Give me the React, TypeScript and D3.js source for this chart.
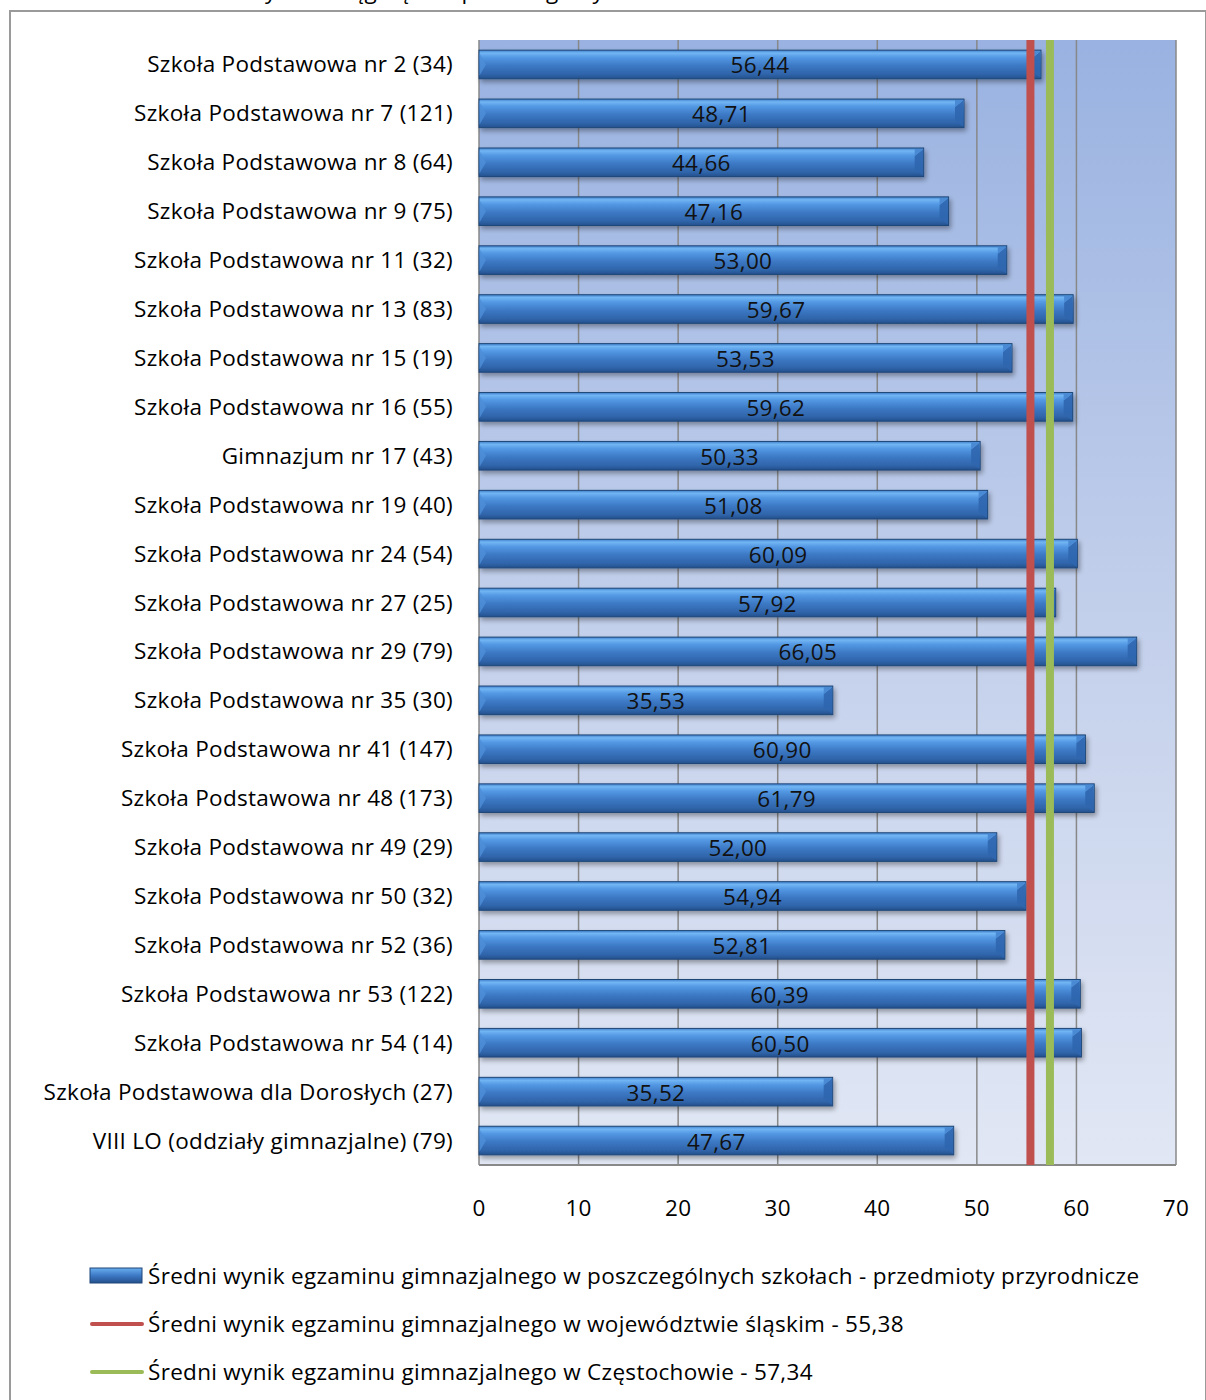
import React from "react";
import * as d3 from "d3";

const categories = [
  "Szkoła Podstawowa nr 2 (34)",
  "Szkoła Podstawowa nr 7 (121)",
  "Szkoła Podstawowa nr 8 (64)",
  "Szkoła Podstawowa nr 9 (75)",
  "Szkoła Podstawowa nr 11 (32)",
  "Szkoła Podstawowa nr 13 (83)",
  "Szkoła Podstawowa nr 15 (19)",
  "Szkoła Podstawowa nr 16 (55)",
  "Gimnazjum nr 17 (43)",
  "Szkoła Podstawowa nr 19 (40)",
  "Szkoła Podstawowa nr 24 (54)",
  "Szkoła Podstawowa nr 27 (25)",
  "Szkoła Podstawowa nr 29 (79)",
  "Szkoła Podstawowa nr 35 (30)",
  "Szkoła Podstawowa nr 41 (147)",
  "Szkoła Podstawowa nr 48 (173)",
  "Szkoła Podstawowa nr 49 (29)",
  "Szkoła Podstawowa nr 50 (32)",
  "Szkoła Podstawowa nr 52 (36)",
  "Szkoła Podstawowa nr 53 (122)",
  "Szkoła Podstawowa nr 54 (14)",
  "Szkoła Podstawowa dla Dorosłych (27)",
  "VIII LO (oddziały gimnazjalne) (79)",
];

const schoolValues = [
  56.44, 48.71, 44.66, 47.16, 53.0, 59.67, 53.53, 59.62, 50.33, 51.08, 60.09,
  57.92, 66.05, 35.53, 60.9, 61.79, 52.0, 54.94, 52.81, 60.39, 60.5, 35.52,
  47.67,
];

const voivodeshipAvg = 55.38;
const cityAvg = 57.34;

const xTicks = [0, 10, 20, 30, 40, 50, 60, 70];

const legendLabels = [
  "Średni wynik egzaminu gimnazjalnego w poszczególnych szkołach - przedmioty przyrodnicze",
  "Średni wynik egzaminu gimnazjalnego w województwie śląskim - 55,38",
  "Średni wynik egzaminu gimnazjalnego w Częstochowie - 57,34",
];

const titleText = "Wyniki osiągnięte w poszczególnych szkołach";

const FONT = "'Open Sans', 'Noto Sans', sans-serif";
const FS = 22.5;
const LS = 0.3;

export default function App() {
  const W = 1206;
  const H = 1400;
  const x = d3.scaleLinear().domain([0, 70]).range([479, 1176]);
  const y = d3
    .scaleBand<string>()
    .domain(categories)
    .range([40, 1165])
    .paddingInner(0.415)
    .paddingOuter(0.2075);
  const bh = y.bandwidth();
  const fmt = (v: number) => v.toFixed(2).replace(".", ",");

  return (
    <div style={{ position: "absolute", left: 0, top: 0 }}>
      <svg
        width={W}
        height={H}
        style={{ display: "block", letterSpacing: LS + "px" }}
        fontFamily={FONT}
      >
        <defs>
          <linearGradient id="bg" x1="0" y1="0" x2="0" y2="1">
            <stop offset="0" stopColor="#99B2E1" />
            <stop offset="0.5" stopColor="#C2CFEB" />
            <stop offset="1" stopColor="#E1E7F4" />
          </linearGradient>
          <linearGradient id="bar" x1="0" y1="0" x2="0" y2="1">
            <stop offset="0" stopColor="#3F7FCB" />
            <stop offset="0.1" stopColor="#72B6F4" />
            <stop offset="0.25" stopColor="#5499E4" />
            <stop offset="0.55" stopColor="#3C78C4" />
            <stop offset="0.85" stopColor="#2F64A9" />
            <stop offset="1" stopColor="#24508C" />
          </linearGradient>
          <linearGradient id="barSw" x1="0" y1="0" x2="0" y2="1">
            <stop offset="0" stopColor="#6AAEF0" />
            <stop offset="0.5" stopColor="#3D79C5" />
            <stop offset="1" stopColor="#24508C" />
          </linearGradient>
          <filter id="shadow" x="-5%" y="-20%" width="110%" height="160%">
            <feGaussianBlur in="SourceAlpha" stdDeviation="2.5" />
            <feOffset dx="2" dy="3" result="b" />
            <feComponentTransfer>
              <feFuncA type="linear" slope="0.35" />
            </feComponentTransfer>
            <feMerge>
              <feMergeNode />
              <feMergeNode in="SourceGraphic" />
            </feMerge>
          </filter>
        </defs>
        <rect x={0} y={0} width={W} height={H} fill="#FFFFFF" />

        {/* title (cut off at the top, as in the source image) */}
        <text x={244} y={-1} fontSize={FS} fill="#000">
          {titleText}
        </text>

        {/* outer frame */}
        <rect
          x={10}
          y={11}
          width={1196}
          height={1400}
          fill="none"
          stroke="#9A9A9A"
          strokeWidth={2}
        />

        {/* plot area */}
        <rect
          x={x(0)}
          y={40}
          width={x(70) - x(0)}
          height={1125}
          fill="url(#bg)"
        />
        {xTicks.map((t) => (
          <line
            key={"g" + t}
            x1={x(t)}
            x2={x(t)}
            y1={40}
            y2={1165}
            stroke="#888888"
            strokeWidth={1.5}
          />
        ))}
        <line x1={x(0)} x2={x(70)} y1={1165} y2={1165} stroke="#888888" strokeWidth={2} />

        {/* bars */}
        {categories.map((c, i) => {
          const v = schoolValues[i];
          const x0 = x(0);
          const x1 = x(v);
          const y0 = y(c)!;
          const bev = 7;
          return (
            <g key={c}>
              <g filter="url(#shadow)">
                <rect
                  x={x0}
                  y={y0}
                  width={x1 - x0}
                  height={bh}
                  fill="url(#bar)"
                  stroke="#1F4778"
                  strokeWidth={1}
                />
              </g>
              <polygon
                points={`${x0 + 0.5},${y0 + 3} ${x0 + bev},${y0 + bh / 2} ${x0 + 0.5},${y0 + bh - 3}`}
                fill="#4F8FD8"
                opacity={0.8}
              />
              <polygon
                points={`${x1 - bev - 2},${y0 + bev + 1} ${x1 - 0.5},${y0 + 1} ${x1 - 0.5},${y0 + bh - 1} ${x1 - bev - 2},${y0 + bh - bev}`}
                fill="#2F66AE"
                opacity={0.9}
              />
              <polygon
                points={`${x1 - bev - 2},${y0 + bev + 1} ${x1 - 0.5},${y0 + 1} ${x1 - bev - 2},${y0 + 1}`}
                fill="#4A8AD4"
              />
              <text
                x={(x0 + x1) / 2}
                y={y0 + bh / 2 + 9}
                fontSize={FS}
                textAnchor="middle"
                fill="#111"
              >
                {fmt(v)}
              </text>
            </g>
          );
        })}

        {/* average lines */}
        <line
          x1={x(voivodeshipAvg)}
          x2={x(voivodeshipAvg)}
          y1={40}
          y2={1165}
          stroke="#C0504D"
          strokeWidth={8}
        />
        <line
          x1={x(cityAvg)}
          x2={x(cityAvg)}
          y1={40}
          y2={1165}
          stroke="#9BBB59"
          strokeWidth={8}
        />

        {/* category labels */}
        {categories.map((c) => (
          <text
            key={"l" + c}
            x={453}
            y={y(c)! + bh / 2 + 8}
            fontSize={FS}
            textAnchor="end"
            fill="#000"
          >
            {c}
          </text>
        ))}

        {/* x tick labels */}
        {xTicks.map((t) => (
          <text
            key={"t" + t}
            x={x(t)}
            y={1216}
            fontSize={FS}
            textAnchor="middle"
            fill="#000"
          >
            {t}
          </text>
        ))}

        {/* legend */}
        <rect x={90} y={1268} width={52} height={15} fill="url(#barSw)" stroke="#1F4778" strokeWidth={1} />
        <line x1={92} x2={142} y1={1324} y2={1324} stroke="#C0504D" strokeWidth={4} strokeLinecap="round" />
        <line x1={92} x2={142} y1={1372} y2={1372} stroke="#9BBB59" strokeWidth={4} strokeLinecap="round" />
        {legendLabels.map((l, i) => (
          <text key={"lg" + i} x={148} y={1284 + i * 48} fontSize={FS} fill="#000">
            {l}
          </text>
        ))}
      </svg>
    </div>
  );
}
